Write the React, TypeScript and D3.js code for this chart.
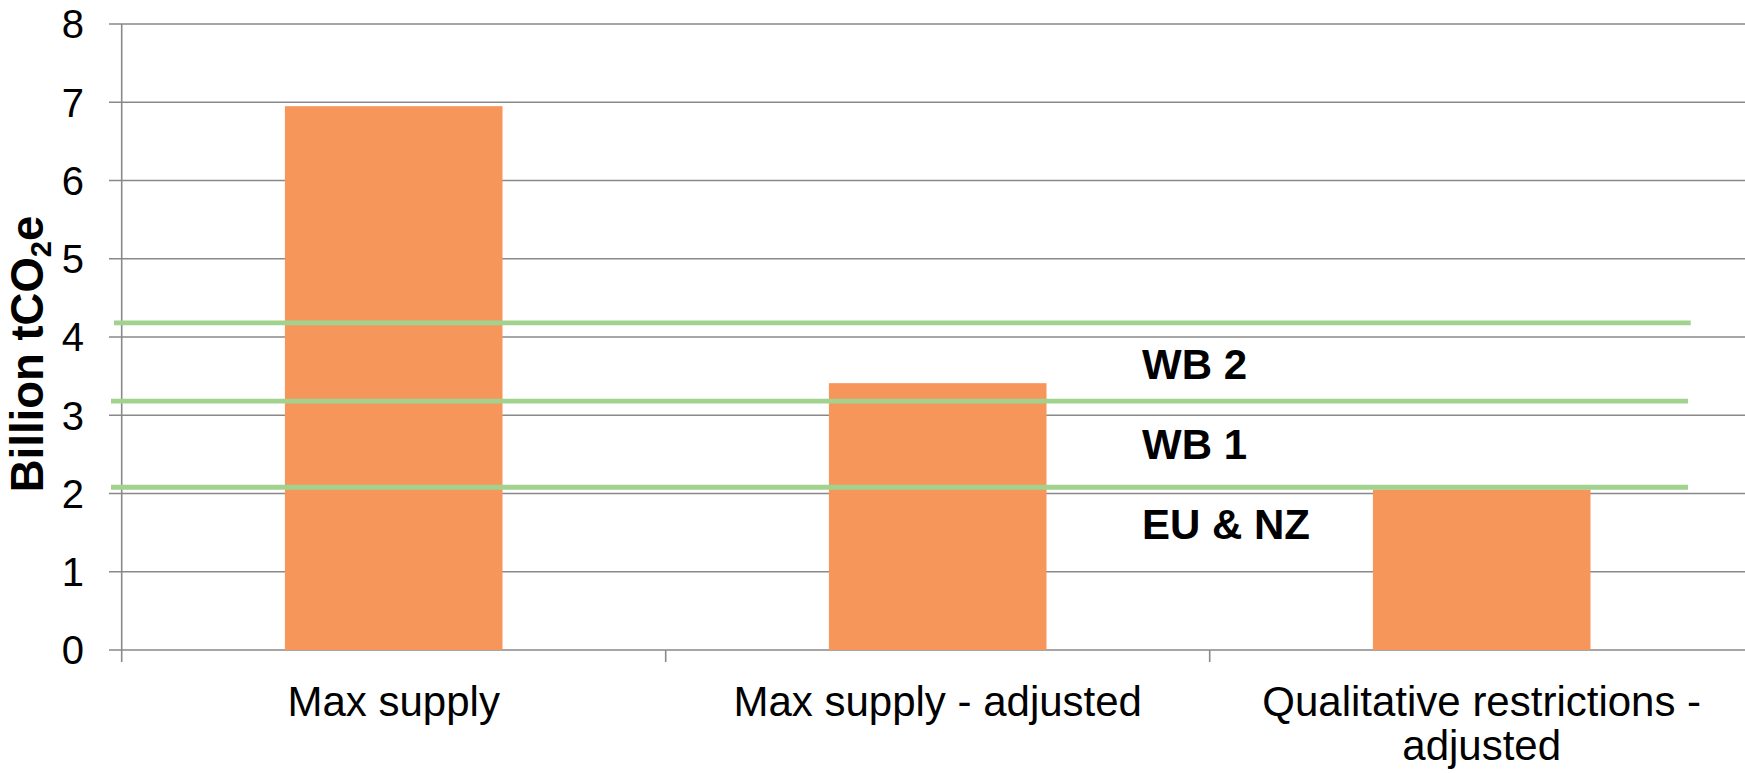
import React from "react";
import * as d3 from "d3";

const categories: string[][] = [
  ["Max supply"],
  ["Max supply - adjusted"],
  ["Qualitative restrictions -", "adjusted"],
];
const supplyValues: number[] = [6.95, 3.41, 2.05];
const yTicks: number[] = [0, 1, 2, 3, 4, 5, 6, 7, 8];
const thresholdValues: number[] = [4.18, 3.18, 2.08];
const bandLabels: string[] = ["WB 2", "WB 1", "EU & NZ"];
const bandLabelValues: number[] = [3.46, 2.44, 1.415];

const W = 1745;
const H = 773;
const FONT = "'Liberation Sans', Arial, Helvetica, sans-serif";
const GRID = "#898989";
const BAR = "#F7965B";
const GREEN = "#A1D28E";

export default function App() {
  const left = 121.7;
  const bandW = 544;
  const x = d3
    .scaleBand<number>()
    .domain(categories.map((_, i) => i))
    .range([left, left + bandW * categories.length])
    .padding(0);
  const y = d3.scaleLinear().domain([0, 8]).range([650, 24]);
  const bw = x.bandwidth();
  const barW = bw * 0.4;

  return (
    <div style={{ position: "fixed", left: 0, top: 0, width: W, height: H, background: "#fff" }}>
      <svg width={W} height={H} style={{ display: "block" }} fontFamily={FONT}>
        <rect x={0} y={0} width={W} height={H} fill="#fff" />
        {yTicks.map((t) => (
          <line key={"g" + t} x1={109} x2={W} y1={y(t)} y2={y(t)} stroke={GRID} strokeWidth={1.6} />
        ))}
        <line x1={left} x2={left} y1={y(8)} y2={662} stroke={GRID} strokeWidth={1.6} />
        {categories.map((_, i) => (
          <line
            key={"xt" + i}
            x1={(x(i) as number) + bw}
            x2={(x(i) as number) + bw}
            y1={y(0)}
            y2={662}
            stroke={GRID}
            strokeWidth={1.6}
          />
        ))}
        {supplyValues.map((v, i) => (
          <rect
            key={"b" + i}
            x={(x(i) as number) + (bw - barW) / 2}
            y={y(v)}
            width={barW}
            height={y(0) - y(v)}
            fill={BAR}
          />
        ))}
        {thresholdValues.map((v, i) => (
          <line
            key={"th" + i}
            x1={i === 0 ? 114 : 111}
            x2={i === 0 ? 1690.7 : 1688}
            y1={y(v)}
            y2={y(v)}
            stroke={GREEN}
            strokeWidth={4.8}
          />
        ))}
        {bandLabels.map((s, i) => (
          <text
            key={"bl" + i}
            x={1142}
            y={y(bandLabelValues[i])}
            fontSize={42}
            fontWeight="bold"
            fill="#000"
          >
            {s}
          </text>
        ))}
        {yTicks.map((t) => (
          <text
            key={"yl" + t}
            x={84}
            y={y(t)}
            dy="0.36em"
            fontSize={40}
            textAnchor="end"
            fill="#000"
          >
            {t}
          </text>
        ))}
        {categories.map((lines, i) => (
          <text
            key={"cl" + i}
            x={(x(i) as number) + bw / 2}
            y={716}
            fontSize={42}
            textAnchor="middle"
            fill="#000"
          >
            {lines.map((ln, j) => (
              <tspan key={j} x={(x(i) as number) + bw / 2} dy={j === 0 ? 0 : 44}>
                {ln}
              </tspan>
            ))}
          </text>
        ))}
        <text
          transform={`translate(43,354) rotate(-90)`}
          fontSize={45.5}
          fontWeight="bold"
          textAnchor="middle"
          fill="#000"
        >
          Billion tCO
          <tspan fontSize={29} dy={8}>
            2
          </tspan>
          <tspan dy={-8}>e</tspan>
        </text>
      </svg>
    </div>
  );
}
